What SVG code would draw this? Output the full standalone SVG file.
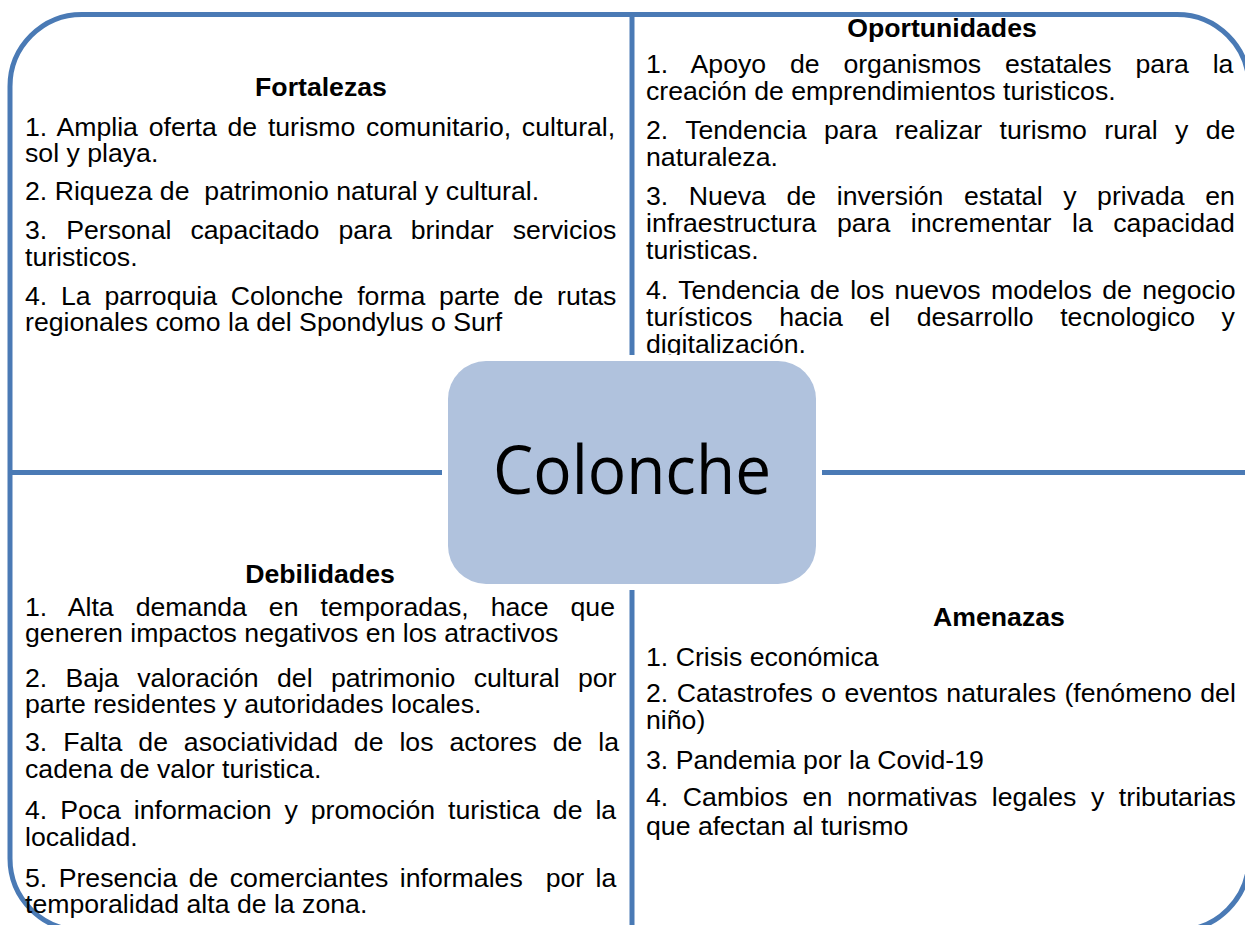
<svg xmlns="http://www.w3.org/2000/svg" width="1245" height="925" viewBox="0 0 1245 925">
<style>
.t{font-family:"Liberation Sans",Arial,sans-serif;font-size:26.67px;fill:#000;white-space:pre}
.h{font-family:"Liberation Sans",Arial,sans-serif;font-size:26.67px;font-weight:bold;fill:#000;text-anchor:middle}
.ln{stroke:#4a7ab5;stroke-width:5;fill:none}
</style>
<rect width="1245" height="925" fill="#fff"/>
<g id="connectors">
<rect class="ln" x="10" y="14.5" width="1239" height="916" rx="72" ry="72"/>
<line class="ln" x1="632" y1="14.5" x2="632" y2="930"/>
<line class="ln" x1="10" y1="472.5" x2="1249" y2="472.5"/>
</g>
<g id="fortalezas">
<text class="h" x="321" y="96">Fortalezas</text>
<text class="t" x="25" y="136" style="word-spacing:3.3px">1. Amplia oferta de turismo comunitario, cultural,</text>
<text class="t" x="25" y="162">sol y playa.</text>
<text class="t" x="25" y="200" xml:space="preserve">2. Riqueza de  patrimonio natural y cultural.</text>
<text class="t" x="25" y="239" style="word-spacing:11.6px">3. Personal capacitado para brindar servicios</text>
<text class="t" x="25" y="266">turisticos.</text>
<text class="t" x="25" y="305" style="word-spacing:6.36px">4. La parroquia Colonche forma parte de rutas</text>
<text class="t" x="25" y="331">regionales como la del Spondylus o Surf</text>
</g>
<g id="oportunidades">
<text class="h" x="942" y="37">Oportunidades</text>
<text class="t" x="646" y="73" style="word-spacing:16.4px">1. Apoyo de organismos estatales para la</text>
<text class="t" x="646" y="100">creación de emprendimientos turisticos.</text>
<text class="t" x="646" y="139" style="word-spacing:9.97px">2. Tendencia para realizar turismo rural y de</text>
<text class="t" x="646" y="166">naturaleza.</text>
<text class="t" x="646" y="205" style="word-spacing:13.2px">3. Nueva de inversión estatal y privada en</text>
<text class="t" x="646" y="232" style="word-spacing:13.1px">infraestructura para incrementar la capacidad</text>
<text class="t" x="646" y="259">turisticas.</text>
<text class="t" x="646" y="299" style="word-spacing:3.0px">4. Tendencia de los nuevos modelos de negocio</text>
<text class="t" x="646" y="326" style="word-spacing:19.1px">turísticos hacia el desarrollo tecnologico y</text>
<text class="t" x="646" y="353">digitalización.</text>
</g>
<g id="debilidades">
<text class="h" x="320" y="583">Debilidades</text>
<text class="t" x="25" y="616" style="word-spacing:14.6px">1. Alta demanda en temporadas, hace que</text>
<text class="t" x="25" y="642">generen impactos negativos en los atractivos</text>
<text class="t" x="25" y="687" style="word-spacing:10.9px">2. Baja valoración del patrimonio cultural por</text>
<text class="t" x="25" y="713">parte residentes y autoridades locales.</text>
<text class="t" x="25" y="751" style="word-spacing:8.5px">3. Falta de asociatividad de los actores de la</text>
<text class="t" x="25" y="778">cadena de valor turistica.</text>
<text class="t" x="25" y="819" style="word-spacing:5.5px">4. Poca informacion y promoción turistica de la</text>
<text class="t" x="25" y="846">localidad.</text>
<text class="t" x="25" y="887" xml:space="preserve" style="word-spacing:4.05px">5. Presencia de comerciantes informales  por la</text>
<text class="t" x="25" y="913">temporalidad alta de la zona.</text>
</g>
<g id="amenazas">
<text class="h" x="999" y="626">Amenazas</text>
<text class="t" x="646" y="666">1. Crisis económica</text>
<text class="t" x="646" y="702" style="word-spacing:1.0px">2. Catastrofes o eventos naturales (fenómeno del</text>
<text class="t" x="646" y="729">niño)</text>
<text class="t" x="646" y="769">3. Pandemia por la Covid-19</text>
<text class="t" x="646" y="806" style="word-spacing:7.2px">4. Cambios en normativas legales y tributarias</text>
<text class="t" x="646" y="835">que afectan al turismo</text>
</g>
<g id="colonche">
<rect x="442" y="355" width="380" height="235" rx="44" ry="44" fill="#fff"/>
<rect x="448" y="361" width="368" height="223" rx="38" ry="38" fill="#b0c2dd"/>
<text x="632" y="494" text-anchor="middle" textLength="278" lengthAdjust="spacingAndGlyphs" style="font-family:'Open Sans','Noto Sans',sans-serif;font-size:68px;fill:#000">Colonche</text>
</g>
</svg>
